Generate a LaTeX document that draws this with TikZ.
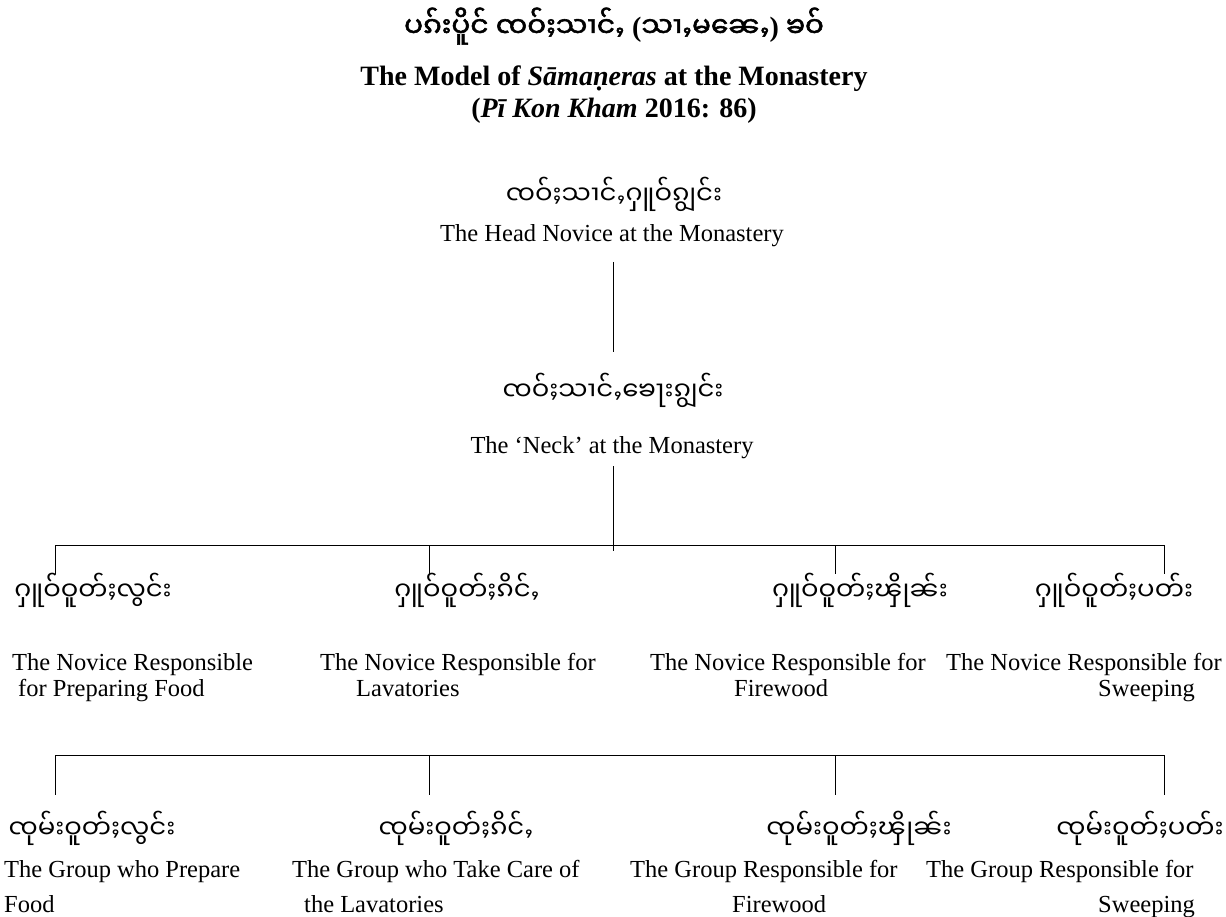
\documentclass[tikz,border=0pt]{standalone}
\usepackage{fontspec}
\setmainfont{Liberation Serif}
\newfontfamily\shan[Script=Myanmar]{Noto Sans Myanmar UI}
\newfontfamily\shanb[Script=Myanmar,FakeBold=2]{Noto Sans Myanmar UI}
\newcommand{\lpar}{{\rmfamily\bfseries(}}
\newcommand{\rpar}{{\rmfamily\bfseries)}}
\begin{document}
\begin{tikzpicture}[x=1pt,y=-1pt,
  en/.style={font=\fontsize{24.5}{29}\selectfont, inner sep=0pt},
  enb/.style={font=\bfseries\fontsize{28}{32}\selectfont, inner sep=0pt, anchor=base},
  sh/.style={font=\shan\fontsize{26}{30}\selectfont, inner sep=0pt, anchor=base},
  link/.style={line width=1pt}]
\useasboundingbox (0,0) rectangle (1226,917);
% titles
\node[font=\shanb\fontsize{28}{32}\selectfont, anchor=base, inner sep=0pt] (t1) at (614,37) {ပၵ်းပိူင် ၸဝ်ႈသၢင်ႇ \lpar{}သၢႇမၼေႇ\rpar{} ၶဝ်};
\node[enb] (t2) at (614,86) {The Model of \textit{Sāmaṇeras} at the Monastery};
\node[enb] (t3) at (614,118) {(\textit{Pī Kon Kham} 2016: 86)};
% head
\node[sh] (hsh) at (614,205) {ၸဝ်ႈသၢင်ႇႁူဝ်ၵျွင်း};
\node[en, anchor=base] (hen) at (612,242) {The Head Novice at the Monastery};
\node[sh] (nsh) at (613,400) {ၸဝ်ႈသၢင်ႇၶေႃးၵျွင်း};
\node[en, anchor=base] (nen) at (612,453) {The ‘Neck’ at the Monastery};
\coordinate (c1a) at (613,262); \coordinate (c1b) at (613,352);
\coordinate (c2a) at (613,466); \coordinate (c2b) at (613,551);
\draw[link] (c1a) -- (c1b);
\draw[link] (c2a) -- (c2b);
% level 3
\node[sh] (a1) at (93,600) {ႁူဝ်ဝူတ်ႈလွင်း};
\node[sh] (a2) at (467,600) {ႁူဝ်ဝူတ်ႈၵိင်ႇ};
\node[sh] (a3) at (860,600) {ႁူဝ်ဝူတ်ႈၾိုၼ်း};
\node[sh] (a4) at (1114,600) {ႁူဝ်ဝူတ်ႈပတ်း};
\node[en, anchor=base west] (a1e1) at (12,670) {The Novice Responsible};
\node[en, anchor=base west] (a1e2) at (18,696) {for Preparing Food};
\node[en, anchor=base west] (a2e1) at (320,670) {The Novice Responsible for};
\node[en, anchor=base west] (a2e2) at (356,696) {Lavatories};
\node[en, anchor=base west] (a3e1) at (650,670) {The Novice Responsible for};
\node[en, anchor=base west] (a3e2) at (734,696) {Firewood};
\node[en, anchor=base west] (a4e1) at (946,670) {The Novice Responsible for};
\node[en, anchor=base west] (a4e2) at (1098,696) {Sweeping};
% level 4
\node[sh] (b1) at (92,838) {ၸုမ်းဝူတ်ႈလွင်း};
\node[sh] (b2) at (456,838) {ၸုမ်းဝူတ်ႈၵိင်ႇ};
\node[sh] (b3) at (859,838) {ၸုမ်းဝူတ်ႈၾိုၼ်း};
\node[sh] (b4) at (1140,838) {ၸုမ်းဝူတ်ႈပတ်း};
\node[en, anchor=base west] (b1e1) at (4,877) {The Group who Prepare};
\node[en, anchor=base west] (b1e2) at (4,912) {Food};
\node[en, anchor=base west] (b2e1) at (292,877) {The Group who Take Care of};
\node[en, anchor=base west] (b2e2) at (304,912) {the Lavatories};
\node[en, anchor=base west] (b3e1) at (630,877) {The Group Responsible for};
\node[en, anchor=base west] (b3e2) at (732,912) {Firewood};
\node[en, anchor=base west] (b4e1) at (926,877) {The Group Responsible for};
\node[en, anchor=base west] (b4e2) at (1098,912) {Sweeping};
% connectors
\foreach \i/\x in {1/55,2/429,3/835,4/1164} {
  \coordinate (u\i) at (\x,545); \coordinate (ud\i) at (\x,574);
  \coordinate (v\i) at (\x,755); \coordinate (vd\i) at (\x,795);
}
\draw[link] (u1) -- (u4);
\draw[link] (v1) -- (v4);
\foreach \i in {1,2,3,4} {
  \draw[link] (u\i) -- (ud\i);
  \draw[link] (v\i) -- (vd\i);
}
\end{tikzpicture}
\end{document}
